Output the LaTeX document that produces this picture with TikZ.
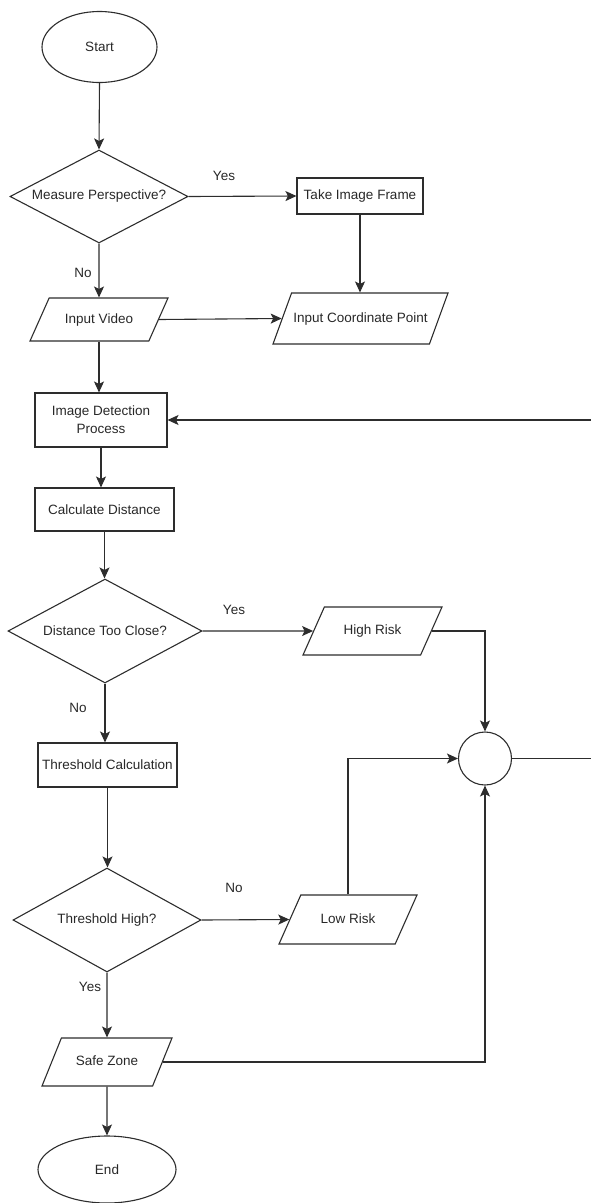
\documentclass[tikz,border=0pt]{standalone}
\usepackage{fontspec}
\setmainfont{Liberation Sans}
\usetikzlibrary{shapes.geometric, arrows.meta}
\definecolor{inkline}{RGB}{45,45,45}
\definecolor{inktext}{RGB}{40,40,40}
\begin{document}
\begin{tikzpicture}[x=1pt, y=-1pt,
  every node/.style={font=\fontsize{13.5}{18}\selectfont, text=inktext},
  base/.style={draw=inkline, line width=1.1pt, inner sep=0pt},
  termbox/.style={base, ellipse},
  procbox/.style={base, rectangle, align=center},
  decbox/.style={base, diamond, shape aspect=1.9},
  % parallelogram: height comes from inner ysep so the slant follows it
  iobox/.style={base, trapezium, trapezium left angle=66, trapezium right angle=114,
                trapezium stretches body, text height=10pt, text depth=3pt, inner xsep=0pt},
  joinbox/.style={base, circle},
  lbl/.style={inner sep=1pt},
  arr/.style={draw=inkline, line width=1.1pt, -{Stealth[length=11pt, width=10pt, inset=2.5pt]}}
]
\useasboundingbox (0,0) rectangle (590,1203);

% main column
\node[termbox, minimum width=115, minimum height=71] (start) at (99.5,47) {Start};
\node[decbox, minimum width=178, minimum height=93] (mp) at (99,196.5) {Measure Perspective?};
\node[procbox, minimum width=126, minimum height=36] (tif) at (360,196) {Take Image Frame};
\node[iobox, trapezium left angle=70, trapezium right angle=110,
      inner ysep=19pt, minimum width=175] (icp) at (360.5,318.5) {Input Coordinate Point};
\node[iobox, inner ysep=15pt, minimum width=138] (iv) at (99,319.5) {Input Video};
\node[procbox, minimum width=132, minimum height=54] (idp) at (101,420) {Image Detection\\Process};
\node[procbox, minimum width=139, minimum height=43] (cd) at (104.5,509.5) {Calculate Distance};
\node[decbox, minimum width=194, minimum height=104] (dtc) at (105,631) {Distance Too Close?};
\node[iobox, inner ysep=17.5pt, minimum width=139] (hr) at (372.5,631) {High Risk};
\node[joinbox, minimum size=53] (join) at (485,758.5) {};
\node[procbox, minimum width=139, minimum height=44] (tc) at (107.5,765) {Threshold Calculation};
\node[decbox, minimum width=188, minimum height=104] (th) at (107,920) {Threshold High?};
\node[iobox, inner ysep=18pt, minimum width=138] (lr) at (348,919.5) {Low Risk};
\node[iobox, trapezium left angle=68, trapezium right angle=112,
      inner ysep=17.5pt, minimum width=130] (sz) at (107,1062) {Safe Zone};
\node[termbox, minimum width=138, minimum height=67] (end) at (107,1169.5) {End};

% branch labels
\node[lbl] (yes1) at (224,176) {Yes};
\node[lbl] (no1) at (83,273) {No};
\node[lbl] (yes2) at (234,610) {Yes};
\node[lbl] (no2) at (78,708) {No};
\node[lbl] (no3) at (234,888) {No};
\node[lbl] (yes3) at (90,987) {Yes};

% return loop runs past the right edge
\coordinate (loopdown) at (604,758.5);
\coordinate (loopup) at (604,420);

% connectors
\draw[arr] (start.south) -- (mp.north);
\draw[arr] (mp.east) -- (tif.west);
\draw[arr] (tif.south) -- (tif.south |- icp.north);
\draw[arr] (mp.south) -- (iv.north);
\draw[arr] (iv.east) -- (icp.west);
\draw[arr] (iv.south) -- (iv.south |- idp.north);
\draw[arr] (idp.south) -- (idp.south |- cd.north);
\draw[arr] (cd.south) -- (cd.south |- dtc.north);
\draw[arr] (dtc.east) -- (hr.west);
\draw[arr] (hr.east) -| (join.north);
\draw[arr] (dtc.south) -- (dtc.south |- tc.north);
\draw[arr] (tc.south) -- (tc.south |- th.north);
\draw[arr] (th.east) -- (lr.west);
\draw[arr] (lr.north) |- (join.west);
\draw[arr] (th.south) -- (sz.north);
\draw[arr] (sz.east) -| (join.south);
\draw[arr] (sz.south) -- (end.north);
\draw[arr] (join.east) -- (loopdown) -- (loopup) -- (idp.east);
\end{tikzpicture}
\end{document}
